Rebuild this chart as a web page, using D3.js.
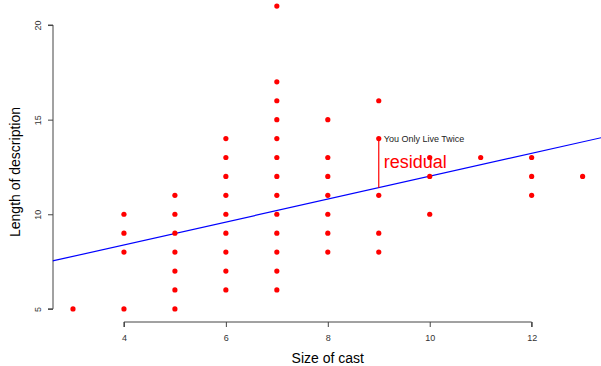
<!DOCTYPE html>
<html>
<head>
<meta charset="utf-8">
<script src="https://cdn.jsdelivr.net/npm/d3@7"></script>
<style>
  body { margin: 0; background: #fff; }
  svg { display: block; font-family: "Liberation Sans", Arial, sans-serif; }
</style>
</head>
<body>
<svg id="chart"></svg>
<script>
// cast size / description length pairs (one entry per distinct point)
const castSize = [
  3,
  4, 4, 4, 4,
  5, 5, 5, 5, 5, 5, 5,
  6, 6, 6, 6, 6, 6, 6, 6, 6,
  7, 7, 7, 7, 7, 7, 7, 7, 7, 7, 7, 7, 7,
  8, 8, 8, 8, 8, 8, 8,
  9, 9, 9, 9, 9,
  10, 10, 10,
  11,
  12, 12, 12,
  13
];
const descLength = [
  5,
  10, 9, 8, 5,
  11, 10, 9, 8, 7, 6, 5,
  14, 13, 12, 11, 10, 9, 8, 7, 6,
  21, 17, 16, 15, 14, 13, 12, 11, 10, 9, 8, 7, 6,
  15, 13, 12, 11, 10, 9, 8,
  16, 14, 11, 9, 8,
  13, 12, 10,
  13,
  13, 12, 11,
  12
];
const xTicks = [4, 6, 8, 10, 12];
const yTicks = [5, 10, 15, 20];

// fitted line
const intercept = 5.96;
const slope = 0.605;

// highlighted film
const film = {name: "You Only Live Twice", cast: 9, length: 14};

const W = 601, H = 366;
const svg = d3.select("#chart").attr("width", W).attr("height", H);

const x = d3.scaleLinear().domain([2.6, 13.4]).range([52.6, 603]);
const y = d3.scaleLinear().domain([4.36, 21.64]).range([321, -6]);

// axes, R style: line only spans first..last tick
const xAxis = d3.axisBottom(x).tickValues(xTicks).tickSize(5).tickPadding(8);
const gx = svg.append("g").attr("transform", "translate(0,322)").call(xAxis);
gx.select(".domain").attr("d", `M${x(4)},5V0H${x(12)}V5`);
gx.selectAll(".domain, .tick line").attr("stroke", "#444");
gx.selectAll("text").attr("font-size", 9).attr("fill", "#333");

const yAxis = d3.axisLeft(y).tickValues(yTicks).tickSize(5).tickPadding(0);
const gy = svg.append("g").attr("transform", "translate(53,0)").call(yAxis);
gy.select(".domain").attr("d", `M-5,${y(20)}H0V${y(5)}H-5`);
gy.selectAll(".domain, .tick line").attr("stroke", "#444");
gy.selectAll("text")
  .attr("font-size", 9).attr("fill", "#333")
  .attr("x", 0).attr("dy", 0)
  .attr("text-anchor", "middle")
  .attr("transform", "translate(-12,0) rotate(-90)");

svg.append("text")
  .attr("x", x(8)).attr("y", 363)
  .attr("text-anchor", "middle")
  .attr("font-size", 14)
  .text("Size of cast");

svg.append("text")
  .attr("transform", "translate(20,172) rotate(-90)")
  .attr("text-anchor", "middle")
  .attr("font-size", 14)
  .text("Length of description");

// clip to plot region
svg.append("clipPath").attr("id", "plot")
  .append("rect").attr("x", x(2.6)).attr("y", 0)
  .attr("width", x(13.4) - x(2.6)).attr("height", y(4.36));

svg.append("line")
  .attr("clip-path", "url(#plot)")
  .attr("x1", x(2.6)).attr("y1", y(intercept + slope * 2.6))
  .attr("x2", x(13.4)).attr("y2", y(intercept + slope * 13.4))
  .attr("stroke", "#0000ff").attr("stroke-width", 1.2);

svg.selectAll("circle.pt")
  .data(d3.zip(castSize, descLength))
  .join("circle")
  .attr("class", "pt")
  .attr("cx", d => x(d[0]))
  .attr("cy", d => y(d[1]))
  .attr("r", 2.6)
  .attr("fill", "#ff0000");

// residual annotation
svg.append("line")
  .attr("x1", x(film.cast)).attr("x2", x(film.cast))
  .attr("y1", y(film.length))
  .attr("y2", y(intercept + slope * film.cast))
  .attr("stroke", "#ff0000").attr("stroke-width", 1.2);

svg.append("text")
  .attr("x", x(film.cast) + 5).attr("y", y(film.length) + 3)
  .attr("font-size", 9).attr("fill", "#222")
  .text(film.name);

svg.append("text")
  .attr("x", x(film.cast) + 5).attr("y", 168)
  .attr("font-size", 18).attr("fill", "#ff0000")
  .text("residual");
</script>
</body>
</html>
